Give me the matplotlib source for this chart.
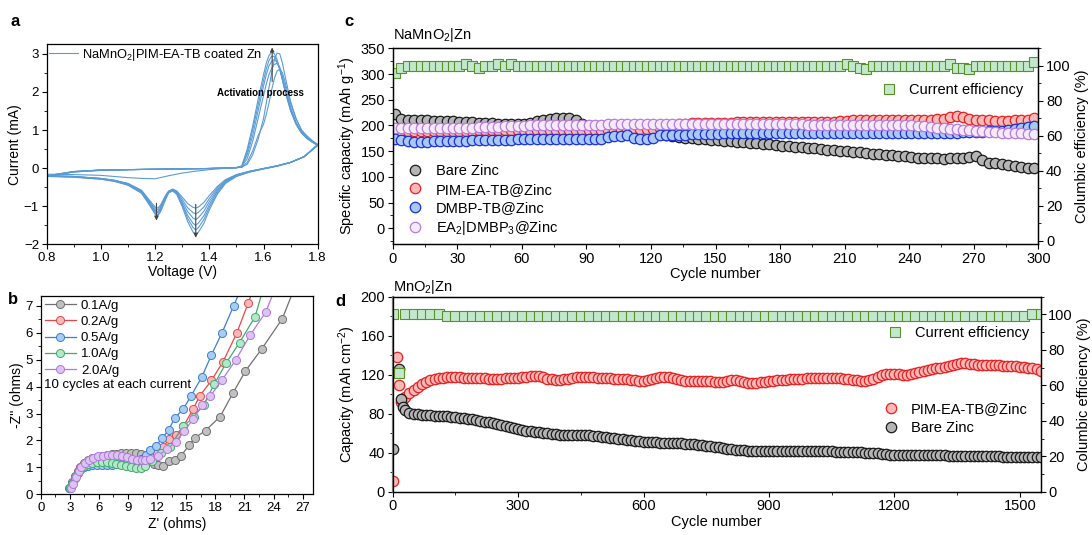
import numpy as np
import matplotlib.pyplot as plt
from matplotlib.ticker import MultipleLocator

plt.rcParams['font.family'] = ['Liberation Sans', 'DejaVu Sans']
plt.rcParams['mathtext.default'] = 'regular'
plt.rcParams['font.size'] = 10
plt.rcParams['axes.linewidth'] = 0.9

# ---------------- (a) CV curves ----------------
v_anodic = [0.80, 0.90, 1.00, 1.10, 1.20, 1.30, 1.40, 1.50, 1.52, 1.54, 1.56, 1.58, 1.60, 1.61,
            1.62, 1.63, 1.64, 1.65, 1.66, 1.67, 1.68, 1.70, 1.72, 1.74, 1.76, 1.78, 1.80]
i_anodic = [
    [-0.20, -0.09, -0.05, -0.04, -0.03, -0.02, -0.01, 0.01, 0.02, 0.15, 0.45, 0.85, 1.15, 1.40,
     1.70, 2.05, 2.35, 2.55, 2.60, 2.50, 2.25, 1.70, 1.30, 1.00, 0.85, 0.72, 0.62],
    [-0.20, -0.09, -0.05, -0.04, -0.03, -0.02, -0.01, 0.01, 0.03, 0.10, 0.35, 0.75, 1.30, 1.70,
     2.10, 2.50, 2.85, 3.02, 3.00, 2.75, 2.40, 1.75, 1.30, 1.00, 0.82, 0.70, 0.62],
    [-0.21, -0.09, -0.05, -0.04, -0.03, -0.02, -0.01, 0.01, 0.04, 0.25, 0.70, 1.30, 1.90, 2.20,
     2.45, 2.62, 2.72, 2.75, 2.65, 2.40, 2.15, 1.60, 1.20, 0.95, 0.80, 0.70, 0.61],
    [-0.21, -0.10, -0.05, -0.04, -0.03, -0.02, -0.01, 0.01, 0.05, 0.35, 0.85, 1.50, 2.15, 2.45,
     2.68, 2.80, 2.85, 2.78, 2.60, 2.35, 2.05, 1.55, 1.18, 0.94, 0.79, 0.69, 0.60],
    [-0.22, -0.10, -0.06, -0.04, -0.03, -0.02, -0.01, 0.01, 0.05, 0.42, 1.00, 1.65, 2.30, 2.60,
     2.82, 2.94, 2.93, 2.80, 2.60, 2.32, 2.02, 1.52, 1.16, 0.93, 0.78, 0.68, 0.60],
    [-0.22, -0.10, -0.06, -0.04, -0.03, -0.02, -0.01, 0.01, 0.06, 0.50, 1.10, 1.80, 2.45, 2.75,
     2.95, 3.05, 3.00, 2.85, 2.60, 2.30, 2.00, 1.50, 1.15, 0.92, 0.78, 0.68, 0.60],
]
v_cathodic = [1.80, 1.75, 1.70, 1.65, 1.60, 1.55, 1.50, 1.46, 1.43, 1.40, 1.38, 1.36, 1.35, 1.34,
              1.32, 1.30, 1.28, 1.265, 1.25, 1.24, 1.22, 1.21, 1.20, 1.18, 1.15, 1.10, 1.05, 1.00,
              0.90, 0.80]
i_cathodic = [
    [0.62, 0.30, 0.15, 0.06, -0.01, -0.08, -0.17, -0.30, -0.48, -0.72, -0.90, -1.02, -1.05, -1.03,
     -0.93, -0.76, -0.60, -0.55, -0.60, -0.70, -0.97, -1.05, -1.02, -0.85, -0.58, -0.40, -0.32,
     -0.27, -0.22, -0.20],
    [0.62, 0.30, 0.15, 0.06, -0.01, -0.08, -0.18, -0.32, -0.52, -0.80, -1.02, -1.16, -1.20, -1.17,
     -1.04, -0.82, -0.62, -0.56, -0.61, -0.72, -1.01, -1.10, -1.07, -0.88, -0.60, -0.41, -0.32,
     -0.27, -0.22, -0.20],
    [0.61, 0.30, 0.15, 0.06, -0.01, -0.09, -0.19, -0.34, -0.56, -0.88, -1.13, -1.30, -1.35, -1.31,
     -1.14, -0.88, -0.64, -0.57, -0.62, -0.74, -1.05, -1.15, -1.11, -0.91, -0.62, -0.42, -0.33,
     -0.28, -0.22, -0.20],
    [0.60, 0.30, 0.15, 0.06, -0.02, -0.09, -0.20, -0.36, -0.60, -0.96, -1.25, -1.44, -1.50, -1.45,
     -1.24, -0.93, -0.66, -0.58, -0.63, -0.76, -1.08, -1.18, -1.14, -0.93, -0.63, -0.43, -0.34,
     -0.28, -0.23, -0.21],
    [0.60, 0.30, 0.15, 0.05, -0.02, -0.10, -0.21, -0.38, -0.64, -1.03, -1.35, -1.56, -1.62, -1.56,
     -1.32, -0.97, -0.67, -0.59, -0.64, -0.78, -1.12, -1.22, -1.18, -0.96, -0.65, -0.44, -0.34,
     -0.29, -0.23, -0.21],
    [0.60, 0.30, 0.15, 0.05, -0.02, -0.10, -0.22, -0.40, -0.68, -1.10, -1.45, -1.68, -1.75, -1.68,
     -1.40, -1.01, -0.69, -0.60, -0.65, -0.80, -1.15, -1.25, -1.21, -0.98, -0.66, -0.45, -0.35,
     -0.29, -0.24, -0.22],
]
v_first = [1.52, 1.45, 1.40, 1.35, 1.30, 1.25, 1.20, 1.15, 1.10, 1.00, 0.90, 0.80]
i_first = [0.03, -0.01, -0.04, -0.08, -0.13, -0.20, -0.28, -0.27, -0.25, -0.19, -0.17, -0.16]

# ---------------- (b) Nyquist ----------------
eis_labels = ['0.1A/g', '0.2A/g', '0.5A/g', '1.0A/g', '2.0A/g']
z_re_01 = [3.0, 3.2, 3.5, 3.8, 4.1, 4.5, 4.9, 5.3, 5.8, 6.3, 6.8, 7.3, 7.8, 8.3, 8.8, 9.3, 9.8,
           10.3, 10.8, 11.3, 11.7, 12.1, 12.6, 13.2, 13.8, 14.5, 15.3, 15.9, 17.0, 18.5, 19.8,
           21.1, 22.8, 24.9, 26.2]
z_im_01 = [0.25, 0.45, 0.68, 0.88, 1.03, 1.17, 1.27, 1.34, 1.40, 1.44, 1.47, 1.49, 1.51, 1.53,
           1.54, 1.55, 1.54, 1.50, 1.40, 1.25, 1.14, 1.10, 1.07, 1.24, 1.28, 1.44, 1.83, 2.10,
           2.37, 2.89, 3.75, 4.58, 5.41, 6.52, 7.7]
z_re_02 = [3.0, 3.2, 3.5, 3.8, 4.1, 4.5, 4.9, 5.3, 5.8, 6.3, 6.8, 7.3, 7.8, 8.3, 8.8, 9.3, 9.8,
           10.3, 10.8, 11.4, 12.0, 12.65, 13.2, 13.95, 14.7, 15.7, 16.4, 17.6, 18.8, 20.2, 21.4,
           21.9]
z_im_02 = [0.25, 0.40, 0.62, 0.82, 0.97, 1.10, 1.18, 1.24, 1.28, 1.30, 1.31, 1.31, 1.30, 1.28,
           1.26, 1.24, 1.23, 1.24, 1.30, 1.40, 1.52, 1.77, 2.04, 2.20, 2.52, 3.16, 3.66, 4.23,
           4.93, 5.98, 7.12, 7.6]
z_re_05 = [2.9, 3.0, 3.2, 3.5, 3.8, 4.1, 4.5, 4.9, 5.3, 5.8, 6.3, 6.8, 7.3, 7.8, 8.3, 8.8, 9.3,
           9.8, 10.3, 10.9, 11.3, 11.9, 12.5, 13.2, 13.8, 14.7, 15.5, 16.6, 17.6, 18.7, 19.9, 20.6]
z_im_05 = [0.22, 0.25, 0.40, 0.60, 0.78, 0.90, 1.00, 1.05, 1.08, 1.09, 1.09, 1.09, 1.10, 1.11,
           1.12, 1.14, 1.16, 1.22, 1.32, 1.46, 1.65, 1.81, 2.08, 2.39, 2.83, 3.17, 3.66, 4.35,
           5.18, 6.01, 7.01, 7.6]
z_re_10 = [3.0, 3.2, 3.5, 3.8, 4.1, 4.5, 4.9, 5.3, 5.8, 6.3, 6.8, 7.3, 7.8, 8.3, 8.8, 9.3, 9.8,
           10.3, 10.8, 11.5, 12.4, 13.3, 14.7, 15.8, 16.8, 17.9, 19.1, 20.5, 22.1, 22.9]
z_im_10 = [0.25, 0.40, 0.62, 0.80, 0.94, 1.06, 1.13, 1.17, 1.19, 1.20, 1.20, 1.18, 1.14, 1.09,
           1.04, 1.00, 0.98, 0.98, 1.05, 1.25, 1.52, 1.77, 2.52, 2.89, 3.32, 4.10, 4.87, 5.64,
           6.60, 7.6]
z_re_20 = [3.1, 3.3, 3.6, 3.9, 4.2, 4.6, 5.0, 5.4, 5.9, 6.4, 6.9, 7.4, 7.9, 8.4, 8.9, 9.4, 9.9,
           10.4, 10.8, 11.3, 12.1, 13.0, 13.95, 14.8, 15.7, 16.6, 17.5, 18.7, 20.1, 21.6, 23.2,
           24.0]
z_im_20 = [0.22, 0.40, 0.65, 0.87, 1.03, 1.18, 1.28, 1.35, 1.41, 1.44, 1.46, 1.46, 1.45, 1.42,
           1.38, 1.33, 1.29, 1.27, 1.28, 1.30, 1.44, 1.67, 1.96, 2.35, 2.79, 3.30, 3.66, 4.25,
           4.99, 5.92, 6.77, 7.5]

# ---------------- (c) NaMnO2|Zn cycling ----------------
cycles_c = np.arange(1, 300, 3)
cap_bare_c = [222, 212, 210, 211, 210, 210, 209, 209, 208, 208,
              207, 207, 206, 205, 205, 204, 203, 203, 202, 202,
              203, 205, 208, 211, 213, 214, 214, 215, 210, 203,
              198, 196, 194, 192, 191, 190, 189, 188, 187, 186,
              185, 184, 182, 180, 178, 176, 175, 174, 173, 172,
              171, 170, 169, 168, 167, 166, 165, 164, 163, 162,
              161, 160, 159, 158, 157, 156, 155, 153, 152, 151,
              150, 149, 148, 146, 145, 144, 143, 142, 141, 140,
              138, 137, 137, 136, 136, 135, 136, 136, 137, 139,
              140, 133, 128, 127, 125, 123, 121, 120, 118, 117]
cap_pim_c = [192, 190, 189, 189, 189, 190, 190, 190, 190, 190,
             190, 190, 190, 191, 191, 191, 191, 191, 191, 191,
             191, 191, 191, 191, 191, 191, 191, 191, 191, 191,
             191, 191, 191, 192, 192, 192, 192, 193, 193, 193,
             194, 196, 198, 200, 202, 203, 204, 204, 205, 205,
             205, 205, 205, 206, 206, 206, 206, 206, 206, 206,
             206, 206, 206, 206, 207, 207, 207, 207, 207, 208,
             209, 210, 211, 211, 210, 210, 210, 210, 210, 210,
             210, 210, 210, 211, 212, 213, 216, 218, 216, 213,
             211, 210, 210, 209, 209, 209, 210, 210, 211, 214]
cap_dmbp_c = [174, 171, 169, 168, 168, 168, 169, 169, 169, 170,
              170, 170, 171, 171, 171, 172, 172, 172, 172, 173,
              173, 173, 174, 174, 174, 174, 174, 174, 174, 174,
              174, 174, 174, 178, 179, 179, 181, 175, 174, 174,
              176, 181, 181, 182, 182, 182, 183, 183, 183, 184,
              184, 185, 185, 185, 186, 186, 186, 186, 186, 186,
              186, 186, 186, 186, 186, 186, 186, 186, 186, 186,
              186, 186, 186, 186, 186, 186, 186, 186, 186, 186,
              186, 186, 186, 186, 186, 186, 186, 186, 187, 188,
              188, 188, 189, 189, 190, 191, 193, 195, 197, 198]
cap_ea_c = [196, 195, 195, 195, 195, 195, 196, 196, 196, 196,
            196, 196, 196, 197, 197, 197, 197, 198, 198, 199,
            199, 200, 200, 200, 200, 201, 201, 201, 201, 201,
            201, 201, 201, 202, 202, 202, 202, 202, 202, 202,
            202, 202, 202, 202, 202, 202, 202, 202, 202, 202,
            202, 203, 203, 203, 203, 203, 203, 203, 203, 203,
            203, 203, 202, 202, 201, 201, 201, 201, 201, 201,
            201, 201, 201, 201, 201, 201, 201, 201, 200, 200,
            200, 199, 198, 197, 196, 195, 194, 193, 192, 191,
            190, 189, 188, 187, 186, 186, 185, 185, 184, 183]
ce_c = [96, 99, 100, 100, 100, 100, 100, 100, 100, 100,
        100, 101, 100, 99, 100, 100, 101, 100, 101, 100,
        100, 100, 100, 100, 100, 100, 100, 100, 100, 100,
        100, 100, 100, 100, 100, 100, 100, 100, 100, 100,
        100, 100, 100, 100, 100, 100, 100, 100, 100, 100,
        100, 100, 100, 100, 100, 100, 100, 100, 100, 100,
        100, 100, 100, 100, 100, 100, 100, 100, 100, 100,
        101, 100, 99, 98, 100, 100, 100, 100, 100, 100,
        100, 100, 100, 100, 100, 100, 101, 99, 99, 98,
        100, 100, 100, 100, 100, 100, 100, 100, 100, 102]

# ---------------- (d) MnO2|Zn cycling ----------------
cycles_d = [1, 11, 16, 20, 25, 30, 40, 50, 60, 70, 80, 90, 100] + list(range(110, 1551, 10))
cap_pim_d = [11, 138, 109, 92, 95, 97, 101, 104, 107, 110, 113, 115, 116,
             117, 117, 118, 118, 118, 118, 117, 117, 117, 117,
             117, 117, 116, 116, 116, 116, 117, 117, 117, 117,
             118, 118, 119, 119, 119, 118, 116, 116, 115, 115,
             116, 116, 117, 118, 118, 118, 118, 118, 117, 117,
             117, 117, 116, 116, 116, 116, 115, 115, 114, 114,
             115, 116, 117, 118, 118, 118, 117, 116, 115, 114,
             114, 114, 114, 114, 114, 114, 113, 113, 113, 114,
             115, 115, 114, 113, 112, 112, 112, 113, 113, 114,
             114, 115, 115, 115, 116, 116, 116, 116, 117, 117,
             117, 117, 117, 117, 117, 117, 117, 116, 116, 115,
             115, 114, 114, 115, 116, 118, 120, 121, 121, 121,
             121, 120, 120, 121, 122, 123, 124, 125, 126, 127,
             127, 128, 129, 130, 131, 132, 132, 131, 131, 130,
             130, 130, 130, 130, 130, 129, 129, 129, 129, 128,
             128, 127, 127, 126, 124]
cap_bare_d = [44, np.nan, 126, 95, 87, 84, 81, 80, 80, 79, 79, 79, 78,
              78, 78, 78, 77, 77, 76, 76, 75, 75, 74,
              73, 72, 71, 70, 69, 68, 67, 66, 65, 64,
              63, 62, 62, 61, 61, 60, 60, 59, 59, 58,
              58, 58, 58, 58, 58, 58, 58, 57, 57, 56,
              56, 55, 55, 54, 54, 53, 53, 52, 52, 51,
              51, 51, 51, 50, 50, 50, 50, 50, 50, 49,
              49, 49, 48, 48, 47, 47, 46, 46, 45, 44,
              44, 43, 43, 43, 42, 42, 42, 42, 42, 42,
              42, 42, 42, 42, 42, 42, 42, 42, 42, 42,
              42, 42, 42, 42, 42, 41, 41, 41, 41, 41,
              41, 41, 40, 40, 40, 40, 39, 39, 38, 38,
              38, 38, 38, 38, 38, 38, 38, 38, 38, 38,
              38, 38, 37, 37, 37, 37, 37, 37, 37, 37,
              37, 37, 37, 37, 37, 36, 36, 36, 36, 36,
              36, 36, 36, 36, 36]
cycles_ce_d = [1, 16] + list(range(30, 1551, 20))
ce_d = [100, 67,
        100, 100, 100, 100, 100, 99, 99, 99, 99, 99,
        99, 99, 99, 99, 99, 99, 99, 99, 99, 99,
        99, 99, 99, 99, 99, 99, 99, 99, 99, 99,
        99, 99, 99, 99, 99, 99, 99, 99, 99, 99,
        99, 99, 99, 99, 99, 99, 99, 99, 99, 99,
        99, 99, 99, 99, 99, 99, 99, 99, 99, 99,
        99, 99, 99, 99, 99, 99, 99, 99, 99, 99,
        99, 99, 99, 99, 99, 100, 100]

# colours
cv_color = '#5b9bd5'
eis_line = ['#707070', '#e8464a', '#3b7fd4', '#3cae6e', '#b178dd']
eis_face = ['#c0c0c0', '#f7b8b8', '#a9cdf2', '#b6e6c8', '#dcc3f2']
ce_face, ce_edge = '#c2e8cc', '#5a8f29'

W, H = 1092, 535
fig = plt.figure(figsize=(W / 100, H / 100), dpi=100)


def px_axes(l, t, r, b):
    return fig.add_axes([l / W, 1 - b / H, (r - l) / W, (b - t) / H])


def style_ticks(ax, size=9):
    ax.tick_params(which='major', direction='out', length=3.5, width=0.8, labelsize=size, pad=2)
    ax.tick_params(which='minor', direction='out', length=2, width=0.6)


# ---- panel a ----
ax = px_axes(46.7, 44.3, 317.7, 244.3)
ax.plot(v_first, i_first, color=cv_color, lw=0.8)
for k in range(len(i_anodic)):
    ax.plot(v_anodic + v_cathodic, i_anodic[k] + i_cathodic[k], color=cv_color, lw=0.8,
            label='NaMnO$_2$|PIM-EA-TB coated Zn' if k == 0 else None)
ax.set_xlim(0.8, 1.8)
ax.set_ylim(-2, 3.25)
ax.xaxis.set_major_locator(MultipleLocator(0.2))
ax.xaxis.set_minor_locator(MultipleLocator(0.1))
ax.yaxis.set_major_locator(MultipleLocator(1))
ax.yaxis.set_minor_locator(MultipleLocator(0.5))
style_ticks(ax, 9.5)
ax.set_xlabel('Voltage (V)', fontsize=10, labelpad=1)
ax.set_ylabel('Current (mA)', fontsize=10, labelpad=1)
ax.legend(loc='upper left', frameon=False, fontsize=9.3, handlelength=2.2, handletextpad=0.3,
          borderaxespad=0.05, borderpad=0.15)
arrow = dict(arrowstyle='-|>', color='#444444', lw=0.8, mutation_scale=6)
ax.annotate('', xy=(1.205, -1.45), xytext=(1.205, -0.85), arrowprops=arrow)
ax.annotate('', xy=(1.35, -1.9), xytext=(1.35, -0.88), arrowprops=arrow)
ax.annotate('', xy=(1.632, 3.24), xytext=(1.632, 2.2), arrowprops=arrow)
ax.text(1.59, 1.96, 'Activation process', fontsize=7, fontweight='bold', ha='center', va='center')

# ---- panel b ----
ax = px_axes(40.7, 295.7, 313.3, 494.3)
eis_re = [z_re_01, z_re_02, z_re_05, z_re_10, z_re_20]
eis_im = [z_im_01, z_im_02, z_im_05, z_im_10, z_im_20]
for k in range(5):
    ax.plot(eis_re[k], eis_im[k], '-o', color=eis_line[k], mfc=eis_face[k], mec=eis_line[k],
            ms=5.8, mew=0.7, lw=0.9, label=eis_labels[k])
ax.set_xlim(0, 28.1)
ax.set_ylim(0, 7.38)
ax.xaxis.set_major_locator(MultipleLocator(3))
ax.xaxis.set_minor_locator(MultipleLocator(1.5))
ax.yaxis.set_major_locator(MultipleLocator(1))
ax.yaxis.set_minor_locator(MultipleLocator(0.5))
style_ticks(ax, 9.5)
ax.set_xlabel("Z' (ohms)", fontsize=10, labelpad=2)
ax.set_ylabel("-Z'' (ohms)", fontsize=10, labelpad=1)
ax.legend(loc='upper left', frameon=False, fontsize=9.5, handlelength=2.4, handletextpad=0.35,
          labelspacing=0.3, borderaxespad=0.1, borderpad=0.2)
ax.text(0.3, 4.06, '10 cycles at each current', fontsize=9.5, va='center')

# ---- panel c ----
ax = px_axes(392.7, 48.3, 1038.3, 244.3)
mk = dict(ls='none', marker='o', ms=7.5, mew=0.9)
ax.plot(cycles_c, cap_bare_c, mfc='#b5b5b5', mec='#1a1a1a', label='Bare Zinc', **mk)
ax.plot(cycles_c, cap_pim_c, mfc='#f8b9b9', mec='#e82020', label='PIM-EA-TB@Zinc', **mk)
ax.plot(cycles_c, cap_dmbp_c, mfc='#a9c8f2', mec='#1a30e0', label='DMBP-TB@Zinc', **mk)
ax.plot(cycles_c, cap_ea_c, mfc='#f5ebf8', mec='#b67be0', label='EA$_2$|DMBP$_3$@Zinc', **mk)
ax.set_xlim(0, 300)
ax.set_ylim(-31, 350)
ax.xaxis.set_major_locator(MultipleLocator(30))
ax.xaxis.set_minor_locator(MultipleLocator(15))
ax.yaxis.set_major_locator(MultipleLocator(50))
ax.yaxis.set_minor_locator(MultipleLocator(25))
style_ticks(ax, 10.5)
ax.set_xlabel('Cycle number', fontsize=10.5, labelpad=1)
ax.set_ylabel('Specific capacity (mAh g$^{-1}$)', fontsize=10.5, labelpad=2)
ax.legend(loc='center left', bbox_to_anchor=(0.024, 0.222), frameon=False, fontsize=10.5,
          handlelength=1.0, handletextpad=0.9, labelspacing=0.3, borderpad=0, borderaxespad=0)
ax2 = ax.twinx()
ax2.plot(cycles_c, ce_c, ls='none', marker='s', ms=6.5, mfc=ce_face, mec=ce_edge, mew=0.8,
         label='Current efficiency')
ax2.set_ylim(-2, 110)
ax2.yaxis.set_major_locator(MultipleLocator(20))
ax2.yaxis.set_minor_locator(MultipleLocator(10))
style_ticks(ax2, 10.5)
ax2.set_ylabel('Columbic efficiency (%)', fontsize=10.5, labelpad=3)
ax2.legend(loc='center left', bbox_to_anchor=(0.757, 0.785), frameon=False, fontsize=10.5,
           handlelength=1.0, handletextpad=0.9, borderpad=0, borderaxespad=0)
fig.text(393 / W, 1 - 35 / H, 'NaMnO$_2$|Zn', fontsize=10.5, va='center', ha='left')

# ---- panel d ----
ax = px_axes(392.7, 296.7, 1040.7, 491.7)
ax.plot(cycles_d, cap_pim_d, mfc='#f8b9b9', mec='#e82020', label='PIM-EA-TB@Zinc', **mk)
ax.plot(cycles_d, cap_bare_d, mfc='#b5b5b5', mec='#1a1a1a', label='Bare Zinc', **mk)
ax.set_xlim(0, 1550)
ax.set_ylim(0, 200)
ax.xaxis.set_major_locator(MultipleLocator(300))
ax.xaxis.set_minor_locator(MultipleLocator(150))
ax.yaxis.set_major_locator(MultipleLocator(40))
ax.yaxis.set_minor_locator(MultipleLocator(20))
style_ticks(ax, 10.5)
ax.spines['left'].set_color('#808080')
ax.spines['left'].set_linewidth(1.6)
ax.set_xlabel('Cycle number', fontsize=10.5, labelpad=1)
ax.set_ylabel('Capacity (mAh cm$^{-2}$)', fontsize=10.5, labelpad=2)
ax.legend(loc='center left', bbox_to_anchor=(0.757, 0.375), frameon=False, fontsize=10.5,
          handlelength=1.0, handletextpad=0.9, labelspacing=0.3, borderpad=0, borderaxespad=0)
ax2 = ax.twinx()
ax2.plot(cycles_ce_d, ce_d, ls='none', marker='s', ms=6.5, mfc=ce_face, mec=ce_edge, mew=0.8,
         label='Current efficiency')
ax2.set_ylim(0, 110)
ax2.yaxis.set_major_locator(MultipleLocator(20))
ax2.yaxis.set_minor_locator(MultipleLocator(10))
style_ticks(ax2, 10.5)
ax2.set_ylabel('Columbic efficiency (%)', fontsize=10.5, labelpad=3)
ax2.legend(loc='center left', bbox_to_anchor=(0.764, 0.814), frameon=False, fontsize=10.5,
           handlelength=1.0, handletextpad=0.9, borderpad=0, borderaxespad=0)
fig.text(393 / W, 1 - 287 / H, 'MnO$_2$|Zn', fontsize=10.5, va='center', ha='left')

# panel letters
for lab, x, y in [('a', 15, 21), ('b', 13, 300), ('c', 349, 21), ('d', 340, 301)]:
    fig.text(x / W, 1 - y / H, lab, fontsize=12, fontweight='bold', va='center', ha='center')

fig.savefig('out.png', dpi=100)
